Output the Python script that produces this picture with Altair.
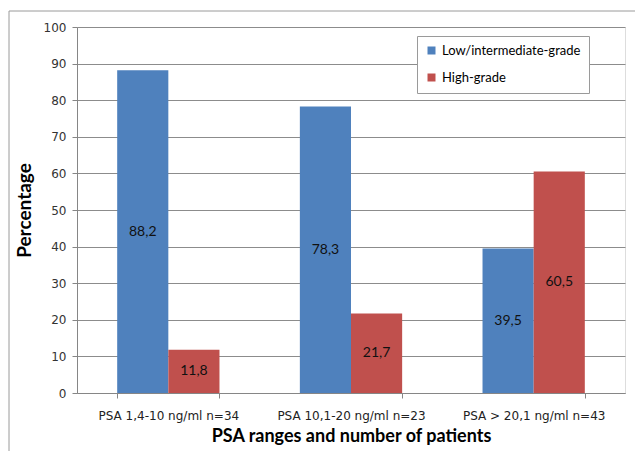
import altair as alt
import pandas as pd

categories = ["PSA 1,4-10 ng/ml n=34", "PSA 10,1-20 ng/ml n=23", "PSA > 20,1 ng/ml n=43"]
series = ["Low/intermediate-grade", "High-grade"]
low = [88.2, 78.3, 39.5]
high = [11.8, 21.7, 60.5]
y_ticks = [0, 10, 20, 30, 40, 50, 60, 70, 80, 90, 100]
colors = ["#4F81BD", "#C0504D"]

rows = []
for c, l, h in zip(categories, low, high):
    rows.append(dict(cat=c, series=series[0], value=l))
    rows.append(dict(cat=c, series=series[1], value=h))
df = pd.DataFrame(rows)
df["mid"] = df["value"] / 2
df["label"] = df["value"].map(lambda v: f"{v:.1f}".replace(".", ","))

x_axis = alt.Axis(
    title="PSA ranges and number of patients",
    labelAngle=0,
    labelFont="DejaVu Sans",
    labelFontSize=12,
    labelColor="#222222",
    labelPadding=12,
    titleFont="Lato",
    titleFontSize=18,
    titleFontWeight="bold",
    titleColor="#000000",
    titlePadding=6,
    domainColor="#868686",
    tickColor="#868686",
    tickSize=5,
    tickBand="extent",
    grid=False,
)
y_axis = alt.Axis(
    title="Percentage",
    values=y_ticks,
    labelOverlap=False,
    labelFont="DejaVu Sans",
    labelFontSize=12,
    labelColor="#333333",
    labelPadding=6,
    titleFont="Lato",
    titleFontSize=19,
    titleFontWeight="bold",
    titleColor="#000000",
    titlePadding=9,
    domainColor="#868686",
    tickColor="#868686",
    tickSize=5,
    gridColor="#8c8c8c",
    gridWidth=1,
)
x_scale = alt.Scale(paddingInner=0.44, paddingOuter=0.22)
y_scale = alt.Scale(domain=[0, 100], nice=False)
xoff = alt.XOffset("series:N", sort=series)

bars = alt.Chart(df).mark_bar().encode(
    x=alt.X("cat:N", sort=categories, scale=x_scale, axis=x_axis),
    xOffset=xoff,
    y=alt.Y("value:Q", scale=y_scale, axis=y_axis),
    color=alt.Color(
        "series:N",
        sort=series,
        scale=alt.Scale(domain=series, range=colors),
        legend=alt.Legend(
            title=None,
            orient="none",
            legendX=340,
            legendY=9,
            strokeColor="#9a9a9a",
            fillColor="#ffffff",
            padding=8,
            symbolType="square",
            symbolSize=64,
            symbolStrokeWidth=0,
            labelFont="Lato",
            labelFontSize=13,
            labelColor="#000000",
            rowPadding=13,
        ),
    ),
)

labels = alt.Chart(df).mark_text(font="Lato", fontSize=14, color="#111111").encode(
    x=alt.X("cat:N", sort=categories, scale=x_scale, axis=x_axis),
    xOffset=xoff,
    y=alt.Y("mid:Q", scale=y_scale, axis=y_axis),
    text="label:N",
)

border_df = pd.DataFrame({"k": [0]})
left_line = alt.Chart(border_df).mark_rule(color="#9a9a9a").encode(
    x=alt.value(-68), y=alt.value(-16), y2=alt.value(440)
)
top_line = alt.Chart(border_df).mark_rule(color="#9a9a9a").encode(
    x=alt.value(-68), x2=alt.value(570), y=alt.value(-16)
)

chart = (
    alt.layer(bars, labels, left_line, top_line)
    .properties(
        width=548,
        height=366,
        autosize=alt.AutoSizeParams(type="none"),
        padding={"left": 69, "top": 19, "right": 10, "bottom": 62},
    )
    .configure_view(stroke=None)
    .configure(background="#ffffff")
)

chart.save("out.html", embed_options={"renderer": "svg", "actions": False})
